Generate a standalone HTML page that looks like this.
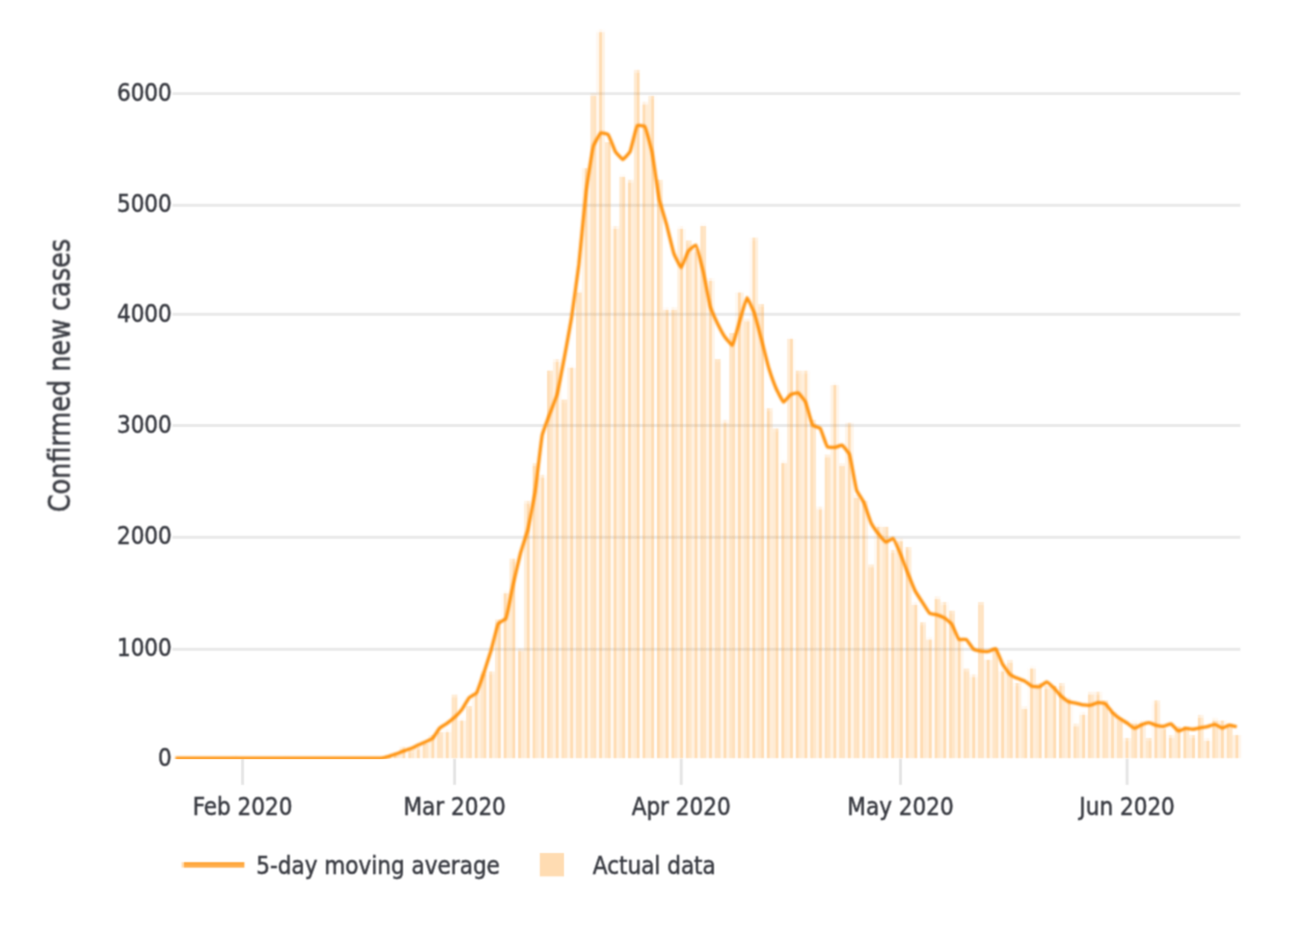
<!DOCTYPE html>
<html lang="en">
<head>
<meta charset="utf-8">
<title>Confirmed new cases</title>
<style>
html,body{margin:0;padding:0;background:#fff;}
body{width:1290px;height:937px;overflow:hidden;}
svg{display:block;}
text{font-family:"DejaVu Sans Condensed","Liberation Sans",sans-serif;font-size:25.2px;fill:#393b42;stroke:#393b42;stroke-width:0.5px;}
</style>
</head>
<body>
<svg width="1290" height="937" viewBox="0 0 1290 937">
<defs><filter id="soft" filterUnits="userSpaceOnUse" x="0" y="0" width="1290" height="937" color-interpolation-filters="sRGB"><feConvolveMatrix order="3" kernelMatrix="0.04000 0.12000 0.04000 0.12000 0.36000 0.12000 0.04000 0.12000 0.04000" divisor="1" edgeMode="none" preserveAlpha="false"/></filter><filter id="softt" filterUnits="userSpaceOnUse" x="0" y="0" width="1290" height="937" color-interpolation-filters="sRGB"><feConvolveMatrix order="3" kernelMatrix="0.06250 0.12500 0.06250 0.12500 0.25000 0.12500 0.06250 0.12500 0.06250" divisor="1" edgeMode="none" preserveAlpha="false"/></filter><filter id="softl" filterUnits="userSpaceOnUse" x="0" y="0" width="1290" height="937" color-interpolation-filters="sRGB"><feConvolveMatrix order="5" kernelMatrix="0.00391 0.01562 0.02344 0.01562 0.00391 0.01562 0.06250 0.09375 0.06250 0.01562 0.02344 0.09375 0.14062 0.09375 0.02344 0.01562 0.06250 0.09375 0.06250 0.01562 0.00391 0.01562 0.02344 0.01562 0.00391" divisor="1" edgeMode="none" preserveAlpha="false"/></filter><clipPath id="plot"><rect x="170" y="0" width="1075" height="759.2"/></clipPath></defs>
<rect x="0" y="0" width="1290" height="937" fill="#ffffff"/>
<g filter="url(#soft)">
<g stroke="#e9e9e9" stroke-width="2.9" fill="none">
<line x1="172.4" y1="93.60" x2="1240.4" y2="93.60"/>
<line x1="172.4" y1="205.20" x2="1240.4" y2="205.20"/>
<line x1="172.4" y1="314.30" x2="1240.4" y2="314.30"/>
<line x1="172.4" y1="425.50" x2="1240.4" y2="425.50"/>
<line x1="172.4" y1="537.20" x2="1240.4" y2="537.20"/>
<line x1="172.4" y1="649.20" x2="1240.4" y2="649.20"/>
</g>
<g stroke="#e4e4e4" stroke-width="2.9" fill="none">
<line x1="242.60" y1="758.8" x2="242.60" y2="784.8"/>
<line x1="454.59" y1="758.8" x2="454.59" y2="784.8"/>
<line x1="681.20" y1="758.8" x2="681.20" y2="784.8"/>
<line x1="900.50" y1="758.8" x2="900.50" y2="784.8"/>
<line x1="1127.11" y1="758.8" x2="1127.11" y2="784.8"/>
</g>
<g fill="#ff8c00">
<rect x="231.79" y="755.31" width="2.89" height="2.89" fill-opacity="0.014"/><rect x="234.68" y="755.31" width="2.89" height="2.89" fill-opacity="0.023"/><rect x="237.57" y="755.31" width="2.89" height="2.89" fill-opacity="0.000"/>
<rect x="283.85" y="755.31" width="2.89" height="2.89" fill-opacity="0.011"/><rect x="286.75" y="755.31" width="2.89" height="2.89" fill-opacity="0.008"/>
<rect x="385.09" y="755.31" width="2.89" height="2.89" fill-opacity="0.101"/><rect x="387.98" y="755.31" width="2.89" height="2.89" fill-opacity="0.196"/><rect x="390.87" y="755.31" width="2.89" height="2.89" fill-opacity="0.016"/>
<rect x="393.76" y="755.31" width="2.89" height="2.89" fill-opacity="0.297"/><rect x="393.76" y="752.42" width="2.89" height="2.89" fill-opacity="0.181"/><rect x="396.66" y="755.31" width="2.89" height="2.89" fill-opacity="0.183"/><rect x="396.66" y="752.42" width="2.89" height="2.89" fill-opacity="0.112"/>
<rect x="399.55" y="749.53" width="2.89" height="8.67" fill-opacity="0.138"/><rect x="399.55" y="746.63" width="2.89" height="2.89" fill-opacity="0.078"/><rect x="402.44" y="749.53" width="2.89" height="8.67" fill-opacity="0.300"/><rect x="402.44" y="746.63" width="2.89" height="2.89" fill-opacity="0.169"/><rect x="405.33" y="749.53" width="2.89" height="8.67" fill-opacity="0.042"/><rect x="405.33" y="746.63" width="2.89" height="2.89" fill-opacity="0.023"/>
<rect x="408.23" y="752.42" width="2.89" height="5.78" fill-opacity="0.280"/><rect x="408.23" y="749.53" width="2.89" height="2.89" fill-opacity="0.234"/><rect x="411.12" y="752.42" width="2.89" height="5.78" fill-opacity="0.200"/><rect x="411.12" y="749.53" width="2.89" height="2.89" fill-opacity="0.167"/>
<rect x="414.01" y="749.53" width="2.89" height="8.67" fill-opacity="0.122"/><rect x="414.01" y="746.63" width="2.89" height="2.89" fill-opacity="0.069"/><rect x="416.90" y="749.53" width="2.89" height="8.67" fill-opacity="0.300"/><rect x="416.90" y="746.63" width="2.89" height="2.89" fill-opacity="0.169"/><rect x="419.79" y="749.53" width="2.89" height="8.67" fill-opacity="0.058"/><rect x="419.79" y="746.63" width="2.89" height="2.89" fill-opacity="0.033"/>
<rect x="422.69" y="743.74" width="2.89" height="14.46" fill-opacity="0.264"/><rect x="425.58" y="743.74" width="2.89" height="14.46" fill-opacity="0.216"/>
<rect x="428.47" y="737.96" width="2.89" height="20.24" fill-opacity="0.106"/><rect x="428.47" y="735.06" width="2.89" height="2.89" fill-opacity="0.078"/><rect x="431.36" y="737.96" width="2.89" height="20.24" fill-opacity="0.300"/><rect x="431.36" y="735.06" width="2.89" height="2.89" fill-opacity="0.222"/><rect x="434.26" y="737.96" width="2.89" height="20.24" fill-opacity="0.074"/><rect x="434.26" y="735.06" width="2.89" height="2.89" fill-opacity="0.055"/>
<rect x="437.15" y="735.06" width="2.89" height="23.14" fill-opacity="0.247"/><rect x="437.15" y="732.17" width="2.89" height="2.89" fill-opacity="0.230"/><rect x="440.04" y="735.06" width="2.89" height="23.14" fill-opacity="0.233"/><rect x="440.04" y="732.17" width="2.89" height="2.89" fill-opacity="0.216"/>
<rect x="442.93" y="732.17" width="2.89" height="26.03" fill-opacity="0.089"/><rect x="442.93" y="729.28" width="2.89" height="2.89" fill-opacity="0.017"/><rect x="445.83" y="732.17" width="2.89" height="26.03" fill-opacity="0.300"/><rect x="445.83" y="729.28" width="2.89" height="2.89" fill-opacity="0.059"/><rect x="448.72" y="732.17" width="2.89" height="26.03" fill-opacity="0.091"/><rect x="448.72" y="729.28" width="2.89" height="2.89" fill-opacity="0.018"/>
<rect x="451.61" y="697.46" width="2.89" height="60.74" fill-opacity="0.231"/><rect x="451.61" y="694.57" width="2.89" height="2.89" fill-opacity="0.159"/><rect x="454.50" y="697.46" width="2.89" height="60.74" fill-opacity="0.249"/><rect x="454.50" y="694.57" width="2.89" height="2.89" fill-opacity="0.171"/>
<rect x="457.40" y="720.60" width="2.89" height="37.60" fill-opacity="0.073"/><rect x="457.40" y="717.71" width="2.89" height="2.89" fill-opacity="0.008"/><rect x="460.29" y="720.60" width="2.89" height="37.60" fill-opacity="0.300"/><rect x="460.29" y="717.71" width="2.89" height="2.89" fill-opacity="0.031"/><rect x="463.18" y="720.60" width="2.89" height="37.60" fill-opacity="0.107"/><rect x="463.18" y="717.71" width="2.89" height="2.89" fill-opacity="0.011"/>
<rect x="466.07" y="709.03" width="2.89" height="49.17" fill-opacity="0.215"/><rect x="466.07" y="706.14" width="2.89" height="2.89" fill-opacity="0.183"/><rect x="468.97" y="709.03" width="2.89" height="49.17" fill-opacity="0.265"/><rect x="468.97" y="706.14" width="2.89" height="2.89" fill-opacity="0.227"/>
<rect x="471.86" y="694.57" width="2.89" height="63.63" fill-opacity="0.056"/><rect x="471.86" y="691.68" width="2.89" height="2.89" fill-opacity="0.028"/><rect x="474.75" y="694.57" width="2.89" height="63.63" fill-opacity="0.300"/><rect x="474.75" y="691.68" width="2.89" height="2.89" fill-opacity="0.147"/><rect x="477.64" y="694.57" width="2.89" height="63.63" fill-opacity="0.124"/><rect x="477.64" y="691.68" width="2.89" height="2.89" fill-opacity="0.061"/>
<rect x="480.53" y="674.32" width="2.89" height="83.88" fill-opacity="0.198"/><rect x="480.53" y="671.43" width="2.89" height="2.89" fill-opacity="0.092"/><rect x="483.43" y="674.32" width="2.89" height="83.88" fill-opacity="0.282"/><rect x="483.43" y="671.43" width="2.89" height="2.89" fill-opacity="0.131"/>
<rect x="486.32" y="674.32" width="2.89" height="83.88" fill-opacity="0.040"/><rect x="486.32" y="671.43" width="2.89" height="2.89" fill-opacity="0.032"/><rect x="489.21" y="674.32" width="2.89" height="83.88" fill-opacity="0.300"/><rect x="489.21" y="671.43" width="2.89" height="2.89" fill-opacity="0.243"/><rect x="492.10" y="674.32" width="2.89" height="83.88" fill-opacity="0.140"/><rect x="492.10" y="671.43" width="2.89" height="2.89" fill-opacity="0.113"/>
<rect x="495.00" y="622.26" width="2.89" height="135.94" fill-opacity="0.182"/><rect x="495.00" y="619.37" width="2.89" height="2.89" fill-opacity="0.141"/><rect x="497.89" y="622.26" width="2.89" height="135.94" fill-opacity="0.298"/><rect x="497.89" y="619.37" width="2.89" height="2.89" fill-opacity="0.232"/>
<rect x="500.78" y="593.34" width="2.89" height="164.86" fill-opacity="0.024"/><rect x="500.78" y="590.44" width="2.89" height="2.89" fill-opacity="0.004"/><rect x="503.67" y="593.34" width="2.89" height="164.86" fill-opacity="0.300"/><rect x="503.67" y="590.44" width="2.89" height="2.89" fill-opacity="0.049"/><rect x="506.57" y="593.34" width="2.89" height="164.86" fill-opacity="0.156"/><rect x="506.57" y="590.44" width="2.89" height="2.89" fill-opacity="0.026"/>
<rect x="509.46" y="561.52" width="2.89" height="196.68" fill-opacity="0.165"/><rect x="509.46" y="558.63" width="2.89" height="2.89" fill-opacity="0.141"/><rect x="512.35" y="561.52" width="2.89" height="196.68" fill-opacity="0.300"/><rect x="512.35" y="558.63" width="2.89" height="2.89" fill-opacity="0.255"/><rect x="515.24" y="561.52" width="2.89" height="196.68" fill-opacity="0.015"/><rect x="515.24" y="558.63" width="2.89" height="2.89" fill-opacity="0.012"/>
<rect x="515.24" y="651.18" width="2.89" height="107.02" fill-opacity="0.007"/><rect x="515.24" y="648.29" width="2.89" height="2.89" fill-opacity="0.003"/><rect x="518.14" y="651.18" width="2.89" height="107.02" fill-opacity="0.300"/><rect x="518.14" y="648.29" width="2.89" height="2.89" fill-opacity="0.130"/><rect x="521.03" y="651.18" width="2.89" height="107.02" fill-opacity="0.173"/><rect x="521.03" y="648.29" width="2.89" height="2.89" fill-opacity="0.075"/>
<rect x="523.92" y="503.67" width="2.89" height="254.53" fill-opacity="0.149"/><rect x="523.92" y="500.78" width="2.89" height="2.89" fill-opacity="0.092"/><rect x="526.81" y="503.67" width="2.89" height="254.53" fill-opacity="0.300"/><rect x="526.81" y="500.78" width="2.89" height="2.89" fill-opacity="0.186"/><rect x="529.70" y="503.67" width="2.89" height="254.53" fill-opacity="0.031"/><rect x="529.70" y="500.78" width="2.89" height="2.89" fill-opacity="0.019"/>
<rect x="532.60" y="466.07" width="2.89" height="292.13" fill-opacity="0.291"/><rect x="532.60" y="463.18" width="2.89" height="2.89" fill-opacity="0.166"/><rect x="535.49" y="466.07" width="2.89" height="292.13" fill-opacity="0.189"/><rect x="535.49" y="463.18" width="2.89" height="2.89" fill-opacity="0.108"/>
<rect x="538.38" y="477.64" width="2.89" height="280.56" fill-opacity="0.133"/><rect x="538.38" y="474.75" width="2.89" height="2.89" fill-opacity="0.078"/><rect x="541.27" y="477.64" width="2.89" height="280.56" fill-opacity="0.300"/><rect x="541.27" y="474.75" width="2.89" height="2.89" fill-opacity="0.176"/><rect x="544.17" y="477.64" width="2.89" height="280.56" fill-opacity="0.047"/><rect x="544.17" y="474.75" width="2.89" height="2.89" fill-opacity="0.028"/>
<rect x="547.06" y="373.52" width="2.89" height="384.68" fill-opacity="0.274"/><rect x="547.06" y="370.62" width="2.89" height="2.89" fill-opacity="0.270"/><rect x="549.95" y="373.52" width="2.89" height="384.68" fill-opacity="0.206"/><rect x="549.95" y="370.62" width="2.89" height="2.89" fill-opacity="0.202"/>
<rect x="552.84" y="361.95" width="2.89" height="396.25" fill-opacity="0.116"/><rect x="552.84" y="359.05" width="2.89" height="2.89" fill-opacity="0.063"/><rect x="555.74" y="361.95" width="2.89" height="396.25" fill-opacity="0.300"/><rect x="555.74" y="359.05" width="2.89" height="2.89" fill-opacity="0.164"/><rect x="558.63" y="361.95" width="2.89" height="396.25" fill-opacity="0.064"/><rect x="558.63" y="359.05" width="2.89" height="2.89" fill-opacity="0.035"/>
<rect x="561.52" y="402.44" width="2.89" height="355.76" fill-opacity="0.258"/><rect x="561.52" y="399.55" width="2.89" height="2.89" fill-opacity="0.224"/><rect x="564.41" y="402.44" width="2.89" height="355.76" fill-opacity="0.222"/><rect x="564.41" y="399.55" width="2.89" height="2.89" fill-opacity="0.193"/>
<rect x="567.31" y="367.73" width="2.89" height="390.47" fill-opacity="0.100"/><rect x="567.31" y="364.84" width="2.89" height="2.89" fill-opacity="0.009"/><rect x="570.20" y="367.73" width="2.89" height="390.47" fill-opacity="0.300"/><rect x="570.20" y="364.84" width="2.89" height="2.89" fill-opacity="0.028"/><rect x="573.09" y="367.73" width="2.89" height="390.47" fill-opacity="0.080"/><rect x="573.09" y="364.84" width="2.89" height="2.89" fill-opacity="0.008"/>
<rect x="575.98" y="292.53" width="2.89" height="465.67" fill-opacity="0.242"/><rect x="575.98" y="289.64" width="2.89" height="2.89" fill-opacity="0.045"/><rect x="578.88" y="292.53" width="2.89" height="465.67" fill-opacity="0.238"/><rect x="578.88" y="289.64" width="2.89" height="2.89" fill-opacity="0.044"/>
<rect x="581.77" y="171.05" width="2.89" height="587.15" fill-opacity="0.083"/><rect x="581.77" y="168.16" width="2.89" height="2.89" fill-opacity="0.075"/><rect x="584.66" y="171.05" width="2.89" height="587.15" fill-opacity="0.300"/><rect x="584.66" y="168.16" width="2.89" height="2.89" fill-opacity="0.271"/><rect x="587.55" y="171.05" width="2.89" height="587.15" fill-opacity="0.097"/><rect x="587.55" y="168.16" width="2.89" height="2.89" fill-opacity="0.087"/>
<rect x="590.44" y="95.85" width="2.89" height="662.35" fill-opacity="0.225"/><rect x="590.44" y="92.96" width="2.89" height="2.89" fill-opacity="0.078"/><rect x="593.34" y="95.85" width="2.89" height="662.35" fill-opacity="0.255"/><rect x="593.34" y="92.96" width="2.89" height="2.89" fill-opacity="0.088"/>
<rect x="596.23" y="32.22" width="2.89" height="725.98" fill-opacity="0.067"/><rect x="596.23" y="29.32" width="2.89" height="2.89" fill-opacity="0.015"/><rect x="599.12" y="32.22" width="2.89" height="725.98" fill-opacity="0.300"/><rect x="599.12" y="29.32" width="2.89" height="2.89" fill-opacity="0.066"/><rect x="602.01" y="32.22" width="2.89" height="725.98" fill-opacity="0.113"/><rect x="602.01" y="29.32" width="2.89" height="2.89" fill-opacity="0.025"/>
<rect x="604.91" y="142.13" width="2.89" height="616.07" fill-opacity="0.209"/><rect x="604.91" y="139.23" width="2.89" height="2.89" fill-opacity="0.005"/><rect x="607.80" y="142.13" width="2.89" height="616.07" fill-opacity="0.271"/><rect x="607.80" y="139.23" width="2.89" height="2.89" fill-opacity="0.006"/>
<rect x="610.69" y="228.90" width="2.89" height="529.30" fill-opacity="0.051"/><rect x="610.69" y="226.01" width="2.89" height="2.89" fill-opacity="0.024"/><rect x="613.58" y="228.90" width="2.89" height="529.30" fill-opacity="0.300"/><rect x="613.58" y="226.01" width="2.89" height="2.89" fill-opacity="0.145"/><rect x="616.48" y="228.90" width="2.89" height="529.30" fill-opacity="0.129"/><rect x="616.48" y="226.01" width="2.89" height="2.89" fill-opacity="0.063"/>
<rect x="619.37" y="176.83" width="2.89" height="581.37" fill-opacity="0.192"/><rect x="619.37" y="173.94" width="2.89" height="2.89" fill-opacity="0.021"/><rect x="622.26" y="176.83" width="2.89" height="581.37" fill-opacity="0.288"/><rect x="622.26" y="173.94" width="2.89" height="2.89" fill-opacity="0.031"/>
<rect x="625.15" y="182.62" width="2.89" height="575.58" fill-opacity="0.034"/><rect x="625.15" y="179.73" width="2.89" height="2.89" fill-opacity="0.021"/><rect x="628.05" y="182.62" width="2.89" height="575.58" fill-opacity="0.300"/><rect x="628.05" y="179.73" width="2.89" height="2.89" fill-opacity="0.184"/><rect x="630.94" y="182.62" width="2.89" height="575.58" fill-opacity="0.146"/><rect x="630.94" y="179.73" width="2.89" height="2.89" fill-opacity="0.089"/>
<rect x="633.83" y="72.71" width="2.89" height="685.49" fill-opacity="0.176"/><rect x="633.83" y="69.82" width="2.89" height="2.89" fill-opacity="0.116"/><rect x="636.72" y="72.71" width="2.89" height="685.49" fill-opacity="0.300"/><rect x="636.72" y="69.82" width="2.89" height="2.89" fill-opacity="0.198"/><rect x="639.62" y="72.71" width="2.89" height="685.49" fill-opacity="0.004"/><rect x="639.62" y="69.82" width="2.89" height="2.89" fill-opacity="0.003"/>
<rect x="639.62" y="104.53" width="2.89" height="653.67" fill-opacity="0.018"/><rect x="639.62" y="101.63" width="2.89" height="2.89" fill-opacity="0.007"/><rect x="642.51" y="104.53" width="2.89" height="653.67" fill-opacity="0.300"/><rect x="642.51" y="101.63" width="2.89" height="2.89" fill-opacity="0.118"/><rect x="645.40" y="104.53" width="2.89" height="653.67" fill-opacity="0.162"/><rect x="645.40" y="101.63" width="2.89" height="2.89" fill-opacity="0.064"/>
<rect x="648.29" y="98.74" width="2.89" height="659.46" fill-opacity="0.160"/><rect x="648.29" y="95.85" width="2.89" height="2.89" fill-opacity="0.141"/><rect x="651.18" y="98.74" width="2.89" height="659.46" fill-opacity="0.300"/><rect x="651.18" y="95.85" width="2.89" height="2.89" fill-opacity="0.265"/><rect x="654.08" y="98.74" width="2.89" height="659.46" fill-opacity="0.020"/><rect x="654.08" y="95.85" width="2.89" height="2.89" fill-opacity="0.018"/>
<rect x="656.97" y="182.62" width="2.89" height="575.58" fill-opacity="0.300"/><rect x="656.97" y="179.73" width="2.89" height="2.89" fill-opacity="0.265"/><rect x="659.86" y="182.62" width="2.89" height="575.58" fill-opacity="0.179"/><rect x="659.86" y="179.73" width="2.89" height="2.89" fill-opacity="0.157"/>
<rect x="662.75" y="309.88" width="2.89" height="448.32" fill-opacity="0.143"/><rect x="662.75" y="306.99" width="2.89" height="2.89" fill-opacity="0.024"/><rect x="665.65" y="309.88" width="2.89" height="448.32" fill-opacity="0.300"/><rect x="665.65" y="306.99" width="2.89" height="2.89" fill-opacity="0.051"/><rect x="668.54" y="309.88" width="2.89" height="448.32" fill-opacity="0.037"/><rect x="668.54" y="306.99" width="2.89" height="2.89" fill-opacity="0.006"/>
<rect x="671.43" y="309.88" width="2.89" height="448.32" fill-opacity="0.285"/><rect x="671.43" y="306.99" width="2.89" height="2.89" fill-opacity="0.081"/><rect x="674.32" y="309.88" width="2.89" height="448.32" fill-opacity="0.195"/><rect x="674.32" y="306.99" width="2.89" height="2.89" fill-opacity="0.056"/>
<rect x="677.22" y="228.90" width="2.89" height="529.30" fill-opacity="0.127"/><rect x="677.22" y="226.01" width="2.89" height="2.89" fill-opacity="0.027"/><rect x="680.11" y="228.90" width="2.89" height="529.30" fill-opacity="0.300"/><rect x="680.11" y="226.01" width="2.89" height="2.89" fill-opacity="0.065"/><rect x="683.00" y="228.90" width="2.89" height="529.30" fill-opacity="0.053"/><rect x="683.00" y="226.01" width="2.89" height="2.89" fill-opacity="0.011"/>
<rect x="685.89" y="243.36" width="2.89" height="514.84" fill-opacity="0.269"/><rect x="685.89" y="240.47" width="2.89" height="2.89" fill-opacity="0.228"/><rect x="688.79" y="243.36" width="2.89" height="514.84" fill-opacity="0.211"/><rect x="688.79" y="240.47" width="2.89" height="2.89" fill-opacity="0.179"/>
<rect x="691.68" y="252.04" width="2.89" height="506.16" fill-opacity="0.110"/><rect x="691.68" y="249.14" width="2.89" height="2.89" fill-opacity="0.074"/><rect x="694.57" y="252.04" width="2.89" height="506.16" fill-opacity="0.300"/><rect x="694.57" y="249.14" width="2.89" height="2.89" fill-opacity="0.200"/><rect x="697.46" y="252.04" width="2.89" height="506.16" fill-opacity="0.070"/><rect x="697.46" y="249.14" width="2.89" height="2.89" fill-opacity="0.046"/>
<rect x="700.36" y="226.01" width="2.89" height="532.19" fill-opacity="0.252"/><rect x="700.36" y="223.11" width="2.89" height="2.89" fill-opacity="0.024"/><rect x="703.25" y="226.01" width="2.89" height="532.19" fill-opacity="0.228"/><rect x="703.25" y="223.11" width="2.89" height="2.89" fill-opacity="0.022"/>
<rect x="706.14" y="280.96" width="2.89" height="477.24" fill-opacity="0.094"/><rect x="706.14" y="278.07" width="2.89" height="2.89" fill-opacity="0.034"/><rect x="709.03" y="280.96" width="2.89" height="477.24" fill-opacity="0.300"/><rect x="709.03" y="278.07" width="2.89" height="2.89" fill-opacity="0.108"/><rect x="711.92" y="280.96" width="2.89" height="477.24" fill-opacity="0.086"/><rect x="711.92" y="278.07" width="2.89" height="2.89" fill-opacity="0.031"/>
<rect x="714.82" y="361.95" width="2.89" height="396.25" fill-opacity="0.236"/><rect x="714.82" y="359.05" width="2.89" height="2.89" fill-opacity="0.210"/><rect x="717.71" y="361.95" width="2.89" height="396.25" fill-opacity="0.244"/><rect x="717.71" y="359.05" width="2.89" height="2.89" fill-opacity="0.218"/>
<rect x="720.60" y="422.69" width="2.89" height="335.51" fill-opacity="0.078"/><rect x="720.60" y="419.79" width="2.89" height="2.89" fill-opacity="0.034"/><rect x="723.49" y="422.69" width="2.89" height="335.51" fill-opacity="0.300"/><rect x="723.49" y="419.79" width="2.89" height="2.89" fill-opacity="0.131"/><rect x="726.39" y="422.69" width="2.89" height="335.51" fill-opacity="0.102"/><rect x="726.39" y="419.79" width="2.89" height="2.89" fill-opacity="0.045"/>
<rect x="729.28" y="335.92" width="2.89" height="422.28" fill-opacity="0.219"/><rect x="729.28" y="333.02" width="2.89" height="2.89" fill-opacity="0.213"/><rect x="732.17" y="335.92" width="2.89" height="422.28" fill-opacity="0.261"/><rect x="732.17" y="333.02" width="2.89" height="2.89" fill-opacity="0.253"/>
<rect x="735.06" y="292.53" width="2.89" height="465.67" fill-opacity="0.061"/><rect x="735.06" y="289.64" width="2.89" height="2.89" fill-opacity="0.004"/><rect x="737.96" y="292.53" width="2.89" height="465.67" fill-opacity="0.300"/><rect x="737.96" y="289.64" width="2.89" height="2.89" fill-opacity="0.021"/><rect x="740.85" y="292.53" width="2.89" height="465.67" fill-opacity="0.119"/><rect x="740.85" y="289.64" width="2.89" height="2.89" fill-opacity="0.008"/>
<rect x="743.74" y="321.45" width="2.89" height="436.75" fill-opacity="0.203"/><rect x="743.74" y="318.56" width="2.89" height="2.89" fill-opacity="0.077"/><rect x="746.63" y="321.45" width="2.89" height="436.75" fill-opacity="0.277"/><rect x="746.63" y="318.56" width="2.89" height="2.89" fill-opacity="0.104"/>
<rect x="749.53" y="240.47" width="2.89" height="517.73" fill-opacity="0.045"/><rect x="749.53" y="237.57" width="2.89" height="2.89" fill-opacity="0.038"/><rect x="752.42" y="240.47" width="2.89" height="517.73" fill-opacity="0.300"/><rect x="752.42" y="237.57" width="2.89" height="2.89" fill-opacity="0.253"/><rect x="755.31" y="240.47" width="2.89" height="517.73" fill-opacity="0.135"/><rect x="755.31" y="237.57" width="2.89" height="2.89" fill-opacity="0.114"/>
<rect x="758.20" y="306.99" width="2.89" height="451.21" fill-opacity="0.187"/><rect x="758.20" y="304.10" width="2.89" height="2.89" fill-opacity="0.145"/><rect x="761.10" y="306.99" width="2.89" height="451.21" fill-opacity="0.293"/><rect x="761.10" y="304.10" width="2.89" height="2.89" fill-opacity="0.229"/>
<rect x="763.99" y="411.12" width="2.89" height="347.08" fill-opacity="0.028"/><rect x="763.99" y="408.23" width="2.89" height="2.89" fill-opacity="0.023"/><rect x="766.88" y="411.12" width="2.89" height="347.08" fill-opacity="0.300"/><rect x="766.88" y="408.23" width="2.89" height="2.89" fill-opacity="0.241"/><rect x="769.77" y="411.12" width="2.89" height="347.08" fill-opacity="0.152"/><rect x="769.77" y="408.23" width="2.89" height="2.89" fill-opacity="0.122"/>
<rect x="772.66" y="431.36" width="2.89" height="326.84" fill-opacity="0.170"/><rect x="772.66" y="428.47" width="2.89" height="2.89" fill-opacity="0.148"/><rect x="775.56" y="431.36" width="2.89" height="326.84" fill-opacity="0.300"/><rect x="775.56" y="428.47" width="2.89" height="2.89" fill-opacity="0.260"/><rect x="778.45" y="431.36" width="2.89" height="326.84" fill-opacity="0.010"/><rect x="778.45" y="428.47" width="2.89" height="2.89" fill-opacity="0.009"/>
<rect x="778.45" y="463.18" width="2.89" height="295.02" fill-opacity="0.012"/><rect x="778.45" y="460.29" width="2.89" height="2.89" fill-opacity="0.002"/><rect x="781.34" y="463.18" width="2.89" height="295.02" fill-opacity="0.300"/><rect x="781.34" y="460.29" width="2.89" height="2.89" fill-opacity="0.055"/><rect x="784.23" y="463.18" width="2.89" height="295.02" fill-opacity="0.168"/><rect x="784.23" y="460.29" width="2.89" height="2.89" fill-opacity="0.031"/>
<rect x="787.13" y="338.81" width="2.89" height="419.39" fill-opacity="0.154"/><rect x="787.13" y="335.92" width="2.89" height="2.89" fill-opacity="0.009"/><rect x="790.02" y="338.81" width="2.89" height="419.39" fill-opacity="0.300"/><rect x="790.02" y="335.92" width="2.89" height="2.89" fill-opacity="0.017"/><rect x="792.91" y="338.81" width="2.89" height="419.39" fill-opacity="0.026"/><rect x="792.91" y="335.92" width="2.89" height="2.89" fill-opacity="0.001"/>
<rect x="795.80" y="373.52" width="2.89" height="384.68" fill-opacity="0.296"/><rect x="795.80" y="370.62" width="2.89" height="2.89" fill-opacity="0.245"/><rect x="798.70" y="373.52" width="2.89" height="384.68" fill-opacity="0.184"/><rect x="798.70" y="370.62" width="2.89" height="2.89" fill-opacity="0.153"/>
<rect x="801.59" y="373.52" width="2.89" height="384.68" fill-opacity="0.137"/><rect x="801.59" y="370.62" width="2.89" height="2.89" fill-opacity="0.103"/><rect x="804.48" y="373.52" width="2.89" height="384.68" fill-opacity="0.300"/><rect x="804.48" y="370.62" width="2.89" height="2.89" fill-opacity="0.226"/><rect x="807.37" y="373.52" width="2.89" height="384.68" fill-opacity="0.043"/><rect x="807.37" y="370.62" width="2.89" height="2.89" fill-opacity="0.032"/>
<rect x="810.27" y="422.69" width="2.89" height="335.51" fill-opacity="0.279"/><rect x="810.27" y="419.79" width="2.89" height="2.89" fill-opacity="0.207"/><rect x="813.16" y="422.69" width="2.89" height="335.51" fill-opacity="0.201"/><rect x="813.16" y="419.79" width="2.89" height="2.89" fill-opacity="0.149"/>
<rect x="816.05" y="509.46" width="2.89" height="248.74" fill-opacity="0.121"/><rect x="816.05" y="506.57" width="2.89" height="2.89" fill-opacity="0.053"/><rect x="818.94" y="509.46" width="2.89" height="248.74" fill-opacity="0.300"/><rect x="818.94" y="506.57" width="2.89" height="2.89" fill-opacity="0.131"/><rect x="821.83" y="509.46" width="2.89" height="248.74" fill-opacity="0.059"/><rect x="821.83" y="506.57" width="2.89" height="2.89" fill-opacity="0.026"/>
<rect x="824.73" y="457.40" width="2.89" height="300.80" fill-opacity="0.263"/><rect x="824.73" y="454.50" width="2.89" height="2.89" fill-opacity="0.147"/><rect x="827.62" y="457.40" width="2.89" height="300.80" fill-opacity="0.217"/><rect x="827.62" y="454.50" width="2.89" height="2.89" fill-opacity="0.121"/>
<rect x="830.51" y="385.09" width="2.89" height="373.11" fill-opacity="0.105"/><rect x="830.51" y="382.19" width="2.89" height="2.89" fill-opacity="0.012"/><rect x="833.40" y="385.09" width="2.89" height="373.11" fill-opacity="0.300"/><rect x="833.40" y="382.19" width="2.89" height="2.89" fill-opacity="0.035"/><rect x="836.30" y="385.09" width="2.89" height="373.11" fill-opacity="0.075"/><rect x="836.30" y="382.19" width="2.89" height="2.89" fill-opacity="0.009"/>
<rect x="839.19" y="466.07" width="2.89" height="292.13" fill-opacity="0.246"/><rect x="839.19" y="463.18" width="2.89" height="2.89" fill-opacity="0.093"/><rect x="842.08" y="466.07" width="2.89" height="292.13" fill-opacity="0.234"/><rect x="842.08" y="463.18" width="2.89" height="2.89" fill-opacity="0.088"/>
<rect x="844.97" y="425.58" width="2.89" height="332.62" fill-opacity="0.088"/><rect x="844.97" y="422.69" width="2.89" height="2.89" fill-opacity="0.066"/><rect x="847.87" y="425.58" width="2.89" height="332.62" fill-opacity="0.300"/><rect x="847.87" y="422.69" width="2.89" height="2.89" fill-opacity="0.224"/><rect x="850.76" y="425.58" width="2.89" height="332.62" fill-opacity="0.092"/><rect x="850.76" y="422.69" width="2.89" height="2.89" fill-opacity="0.068"/>
<rect x="853.65" y="497.89" width="2.89" height="260.31" fill-opacity="0.230"/><rect x="853.65" y="495.00" width="2.89" height="2.89" fill-opacity="0.070"/><rect x="856.54" y="497.89" width="2.89" height="260.31" fill-opacity="0.250"/><rect x="856.54" y="495.00" width="2.89" height="2.89" fill-opacity="0.076"/>
<rect x="859.44" y="500.78" width="2.89" height="257.42" fill-opacity="0.072"/><rect x="859.44" y="497.89" width="2.89" height="2.89" fill-opacity="0.003"/><rect x="862.33" y="500.78" width="2.89" height="257.42" fill-opacity="0.300"/><rect x="862.33" y="497.89" width="2.89" height="2.89" fill-opacity="0.012"/><rect x="865.22" y="500.78" width="2.89" height="257.42" fill-opacity="0.108"/><rect x="865.22" y="497.89" width="2.89" height="2.89" fill-opacity="0.004"/>
<rect x="868.11" y="567.31" width="2.89" height="190.89" fill-opacity="0.214"/><rect x="868.11" y="564.41" width="2.89" height="2.89" fill-opacity="0.134"/><rect x="871.01" y="567.31" width="2.89" height="190.89" fill-opacity="0.266"/><rect x="871.01" y="564.41" width="2.89" height="2.89" fill-opacity="0.167"/>
<rect x="873.90" y="526.81" width="2.89" height="231.39" fill-opacity="0.055"/><rect x="873.90" y="523.92" width="2.89" height="2.89" fill-opacity="0.006"/><rect x="876.79" y="526.81" width="2.89" height="231.39" fill-opacity="0.300"/><rect x="876.79" y="523.92" width="2.89" height="2.89" fill-opacity="0.034"/><rect x="879.68" y="526.81" width="2.89" height="231.39" fill-opacity="0.125"/><rect x="879.68" y="523.92" width="2.89" height="2.89" fill-opacity="0.014"/>
<rect x="882.57" y="529.70" width="2.89" height="228.50" fill-opacity="0.197"/><rect x="882.57" y="526.81" width="2.89" height="2.89" fill-opacity="0.182"/><rect x="885.47" y="529.70" width="2.89" height="228.50" fill-opacity="0.283"/><rect x="885.47" y="526.81" width="2.89" height="2.89" fill-opacity="0.261"/>
<rect x="888.36" y="552.84" width="2.89" height="205.36" fill-opacity="0.039"/><rect x="888.36" y="549.95" width="2.89" height="2.89" fill-opacity="0.028"/><rect x="891.25" y="552.84" width="2.89" height="205.36" fill-opacity="0.300"/><rect x="891.25" y="549.95" width="2.89" height="2.89" fill-opacity="0.217"/><rect x="894.14" y="552.84" width="2.89" height="205.36" fill-opacity="0.141"/><rect x="894.14" y="549.95" width="2.89" height="2.89" fill-opacity="0.102"/>
<rect x="897.04" y="541.27" width="2.89" height="216.93" fill-opacity="0.181"/><rect x="897.04" y="538.38" width="2.89" height="2.89" fill-opacity="0.052"/><rect x="899.93" y="541.27" width="2.89" height="216.93" fill-opacity="0.299"/><rect x="899.93" y="538.38" width="2.89" height="2.89" fill-opacity="0.086"/>
<rect x="902.82" y="549.95" width="2.89" height="208.25" fill-opacity="0.023"/><rect x="902.82" y="547.06" width="2.89" height="2.89" fill-opacity="0.018"/><rect x="905.71" y="549.95" width="2.89" height="208.25" fill-opacity="0.300"/><rect x="905.71" y="547.06" width="2.89" height="2.89" fill-opacity="0.239"/><rect x="908.61" y="549.95" width="2.89" height="208.25" fill-opacity="0.157"/><rect x="908.61" y="547.06" width="2.89" height="2.89" fill-opacity="0.125"/>
<rect x="911.50" y="604.91" width="2.89" height="153.29" fill-opacity="0.164"/><rect x="911.50" y="602.01" width="2.89" height="2.89" fill-opacity="0.036"/><rect x="914.39" y="604.91" width="2.89" height="153.29" fill-opacity="0.300"/><rect x="914.39" y="602.01" width="2.89" height="2.89" fill-opacity="0.065"/><rect x="917.28" y="604.91" width="2.89" height="153.29" fill-opacity="0.016"/><rect x="917.28" y="602.01" width="2.89" height="2.89" fill-opacity="0.003"/>
<rect x="917.28" y="625.15" width="2.89" height="133.05" fill-opacity="0.006"/><rect x="917.28" y="622.26" width="2.89" height="2.89" fill-opacity="0.005"/><rect x="920.18" y="625.15" width="2.89" height="133.05" fill-opacity="0.300"/><rect x="920.18" y="622.26" width="2.89" height="2.89" fill-opacity="0.234"/><rect x="923.07" y="625.15" width="2.89" height="133.05" fill-opacity="0.174"/><rect x="923.07" y="622.26" width="2.89" height="2.89" fill-opacity="0.136"/>
<rect x="925.96" y="639.62" width="2.89" height="118.58" fill-opacity="0.148"/><rect x="925.96" y="636.72" width="2.89" height="2.89" fill-opacity="0.028"/><rect x="928.85" y="639.62" width="2.89" height="118.58" fill-opacity="0.300"/><rect x="928.85" y="636.72" width="2.89" height="2.89" fill-opacity="0.056"/><rect x="931.75" y="639.62" width="2.89" height="118.58" fill-opacity="0.032"/><rect x="931.75" y="636.72" width="2.89" height="2.89" fill-opacity="0.006"/>
<rect x="934.64" y="599.12" width="2.89" height="159.08" fill-opacity="0.290"/><rect x="934.64" y="596.23" width="2.89" height="2.89" fill-opacity="0.094"/><rect x="937.53" y="599.12" width="2.89" height="159.08" fill-opacity="0.190"/><rect x="937.53" y="596.23" width="2.89" height="2.89" fill-opacity="0.062"/>
<rect x="940.42" y="604.91" width="2.89" height="153.29" fill-opacity="0.132"/><rect x="940.42" y="602.01" width="2.89" height="2.89" fill-opacity="0.089"/><rect x="943.31" y="604.91" width="2.89" height="153.29" fill-opacity="0.300"/><rect x="943.31" y="602.01" width="2.89" height="2.89" fill-opacity="0.203"/><rect x="946.21" y="604.91" width="2.89" height="153.29" fill-opacity="0.048"/><rect x="946.21" y="602.01" width="2.89" height="2.89" fill-opacity="0.033"/>
<rect x="949.10" y="613.58" width="2.89" height="144.62" fill-opacity="0.273"/><rect x="949.10" y="610.69" width="2.89" height="2.89" fill-opacity="0.230"/><rect x="951.99" y="613.58" width="2.89" height="144.62" fill-opacity="0.207"/><rect x="951.99" y="610.69" width="2.89" height="2.89" fill-opacity="0.174"/>
<rect x="954.88" y="639.62" width="2.89" height="118.58" fill-opacity="0.115"/><rect x="954.88" y="636.72" width="2.89" height="2.89" fill-opacity="0.057"/><rect x="957.78" y="639.62" width="2.89" height="118.58" fill-opacity="0.300"/><rect x="957.78" y="636.72" width="2.89" height="2.89" fill-opacity="0.148"/><rect x="960.67" y="639.62" width="2.89" height="118.58" fill-opacity="0.065"/><rect x="960.67" y="636.72" width="2.89" height="2.89" fill-opacity="0.032"/>
<rect x="963.56" y="671.43" width="2.89" height="86.77" fill-opacity="0.257"/><rect x="963.56" y="668.54" width="2.89" height="2.89" fill-opacity="0.187"/><rect x="966.45" y="671.43" width="2.89" height="86.77" fill-opacity="0.223"/><rect x="966.45" y="668.54" width="2.89" height="2.89" fill-opacity="0.162"/>
<rect x="969.35" y="677.22" width="2.89" height="80.98" fill-opacity="0.099"/><rect x="969.35" y="674.32" width="2.89" height="2.89" fill-opacity="0.050"/><rect x="972.24" y="677.22" width="2.89" height="80.98" fill-opacity="0.300"/><rect x="972.24" y="674.32" width="2.89" height="2.89" fill-opacity="0.152"/><rect x="975.13" y="677.22" width="2.89" height="80.98" fill-opacity="0.081"/><rect x="975.13" y="674.32" width="2.89" height="2.89" fill-opacity="0.041"/>
<rect x="978.02" y="604.91" width="2.89" height="153.29" fill-opacity="0.241"/><rect x="978.02" y="602.01" width="2.89" height="2.89" fill-opacity="0.172"/><rect x="980.92" y="604.91" width="2.89" height="153.29" fill-opacity="0.239"/><rect x="980.92" y="602.01" width="2.89" height="2.89" fill-opacity="0.171"/>
<rect x="983.81" y="659.86" width="2.89" height="98.34" fill-opacity="0.082"/><rect x="983.81" y="656.97" width="2.89" height="2.89" fill-opacity="0.002"/><rect x="986.70" y="659.86" width="2.89" height="98.34" fill-opacity="0.300"/><rect x="986.70" y="656.97" width="2.89" height="2.89" fill-opacity="0.007"/><rect x="989.59" y="659.86" width="2.89" height="98.34" fill-opacity="0.098"/><rect x="989.59" y="656.97" width="2.89" height="2.89" fill-opacity="0.002"/>
<rect x="992.49" y="648.29" width="2.89" height="109.91" fill-opacity="0.224"/><rect x="995.38" y="648.29" width="2.89" height="109.91" fill-opacity="0.256"/>
<rect x="998.27" y="671.43" width="2.89" height="86.77" fill-opacity="0.066"/><rect x="998.27" y="668.54" width="2.89" height="2.89" fill-opacity="0.015"/><rect x="1001.16" y="671.43" width="2.89" height="86.77" fill-opacity="0.300"/><rect x="1001.16" y="668.54" width="2.89" height="2.89" fill-opacity="0.069"/><rect x="1004.05" y="671.43" width="2.89" height="86.77" fill-opacity="0.114"/><rect x="1004.05" y="668.54" width="2.89" height="2.89" fill-opacity="0.026"/>
<rect x="1006.95" y="662.75" width="2.89" height="95.45" fill-opacity="0.208"/><rect x="1006.95" y="659.86" width="2.89" height="2.89" fill-opacity="0.109"/><rect x="1009.84" y="662.75" width="2.89" height="95.45" fill-opacity="0.272"/><rect x="1009.84" y="659.86" width="2.89" height="2.89" fill-opacity="0.143"/>
<rect x="1012.73" y="685.89" width="2.89" height="72.31" fill-opacity="0.050"/><rect x="1012.73" y="683.00" width="2.89" height="2.89" fill-opacity="0.043"/><rect x="1015.62" y="685.89" width="2.89" height="72.31" fill-opacity="0.300"/><rect x="1015.62" y="683.00" width="2.89" height="2.89" fill-opacity="0.259"/><rect x="1018.52" y="685.89" width="2.89" height="72.31" fill-opacity="0.130"/><rect x="1018.52" y="683.00" width="2.89" height="2.89" fill-opacity="0.112"/>
<rect x="1021.41" y="709.03" width="2.89" height="49.17" fill-opacity="0.191"/><rect x="1021.41" y="706.14" width="2.89" height="2.89" fill-opacity="0.054"/><rect x="1024.30" y="709.03" width="2.89" height="49.17" fill-opacity="0.289"/><rect x="1024.30" y="706.14" width="2.89" height="2.89" fill-opacity="0.081"/>
<rect x="1027.19" y="668.54" width="2.89" height="89.66" fill-opacity="0.033"/><rect x="1027.19" y="665.65" width="2.89" height="2.89" fill-opacity="0.005"/><rect x="1030.09" y="668.54" width="2.89" height="89.66" fill-opacity="0.300"/><rect x="1030.09" y="665.65" width="2.89" height="2.89" fill-opacity="0.045"/><rect x="1032.98" y="668.54" width="2.89" height="89.66" fill-opacity="0.147"/><rect x="1032.98" y="665.65" width="2.89" height="2.89" fill-opacity="0.022"/>
<rect x="1035.87" y="685.89" width="2.89" height="72.31" fill-opacity="0.175"/><rect x="1035.87" y="683.00" width="2.89" height="2.89" fill-opacity="0.084"/><rect x="1038.76" y="685.89" width="2.89" height="72.31" fill-opacity="0.300"/><rect x="1038.76" y="683.00" width="2.89" height="2.89" fill-opacity="0.144"/><rect x="1041.66" y="685.89" width="2.89" height="72.31" fill-opacity="0.005"/><rect x="1041.66" y="683.00" width="2.89" height="2.89" fill-opacity="0.002"/>
<rect x="1041.66" y="688.79" width="2.89" height="69.41" fill-opacity="0.017"/><rect x="1041.66" y="685.89" width="2.89" height="2.89" fill-opacity="0.010"/><rect x="1044.55" y="688.79" width="2.89" height="69.41" fill-opacity="0.300"/><rect x="1044.55" y="685.89" width="2.89" height="2.89" fill-opacity="0.179"/><rect x="1047.44" y="688.79" width="2.89" height="69.41" fill-opacity="0.163"/><rect x="1047.44" y="685.89" width="2.89" height="2.89" fill-opacity="0.098"/>
<rect x="1050.33" y="688.79" width="2.89" height="69.41" fill-opacity="0.159"/><rect x="1050.33" y="685.89" width="2.89" height="2.89" fill-opacity="0.156"/><rect x="1053.23" y="688.79" width="2.89" height="69.41" fill-opacity="0.300"/><rect x="1053.23" y="685.89" width="2.89" height="2.89" fill-opacity="0.294"/><rect x="1056.12" y="688.79" width="2.89" height="69.41" fill-opacity="0.021"/><rect x="1056.12" y="685.89" width="2.89" height="2.89" fill-opacity="0.021"/>
<rect x="1059.01" y="685.89" width="2.89" height="72.31" fill-opacity="0.300"/><rect x="1059.01" y="683.00" width="2.89" height="2.89" fill-opacity="0.190"/><rect x="1061.90" y="685.89" width="2.89" height="72.31" fill-opacity="0.180"/><rect x="1061.90" y="683.00" width="2.89" height="2.89" fill-opacity="0.114"/>
<rect x="1064.79" y="700.36" width="2.89" height="57.84" fill-opacity="0.142"/><rect x="1064.79" y="697.46" width="2.89" height="2.89" fill-opacity="0.049"/><rect x="1067.69" y="700.36" width="2.89" height="57.84" fill-opacity="0.300"/><rect x="1067.69" y="697.46" width="2.89" height="2.89" fill-opacity="0.104"/><rect x="1070.58" y="700.36" width="2.89" height="57.84" fill-opacity="0.038"/><rect x="1070.58" y="697.46" width="2.89" height="2.89" fill-opacity="0.013"/>
<rect x="1073.47" y="726.39" width="2.89" height="31.81" fill-opacity="0.284"/><rect x="1073.47" y="723.49" width="2.89" height="2.89" fill-opacity="0.141"/><rect x="1076.36" y="726.39" width="2.89" height="31.81" fill-opacity="0.196"/><rect x="1076.36" y="723.49" width="2.89" height="2.89" fill-opacity="0.097"/>
<rect x="1079.26" y="714.82" width="2.89" height="43.38" fill-opacity="0.126"/><rect x="1079.26" y="711.92" width="2.89" height="2.89" fill-opacity="0.027"/><rect x="1082.15" y="714.82" width="2.89" height="43.38" fill-opacity="0.300"/><rect x="1082.15" y="711.92" width="2.89" height="2.89" fill-opacity="0.063"/><rect x="1085.04" y="714.82" width="2.89" height="43.38" fill-opacity="0.054"/><rect x="1085.04" y="711.92" width="2.89" height="2.89" fill-opacity="0.011"/>
<rect x="1087.93" y="694.57" width="2.89" height="63.63" fill-opacity="0.268"/><rect x="1087.93" y="691.68" width="2.89" height="2.89" fill-opacity="0.101"/><rect x="1090.83" y="694.57" width="2.89" height="63.63" fill-opacity="0.212"/><rect x="1090.83" y="691.68" width="2.89" height="2.89" fill-opacity="0.080"/>
<rect x="1093.72" y="694.57" width="2.89" height="63.63" fill-opacity="0.109"/><rect x="1093.72" y="691.68" width="2.89" height="2.89" fill-opacity="0.079"/><rect x="1096.61" y="694.57" width="2.89" height="63.63" fill-opacity="0.300"/><rect x="1096.61" y="691.68" width="2.89" height="2.89" fill-opacity="0.216"/><rect x="1099.50" y="694.57" width="2.89" height="63.63" fill-opacity="0.071"/><rect x="1099.50" y="691.68" width="2.89" height="2.89" fill-opacity="0.051"/>
<rect x="1102.40" y="703.25" width="2.89" height="54.95" fill-opacity="0.251"/><rect x="1102.40" y="700.36" width="2.89" height="2.89" fill-opacity="0.194"/><rect x="1105.29" y="703.25" width="2.89" height="54.95" fill-opacity="0.229"/><rect x="1105.29" y="700.36" width="2.89" height="2.89" fill-opacity="0.176"/>
<rect x="1108.18" y="714.82" width="2.89" height="43.38" fill-opacity="0.093"/><rect x="1108.18" y="711.92" width="2.89" height="2.89" fill-opacity="0.087"/><rect x="1111.07" y="714.82" width="2.89" height="43.38" fill-opacity="0.300"/><rect x="1111.07" y="711.92" width="2.89" height="2.89" fill-opacity="0.282"/><rect x="1113.97" y="714.82" width="2.89" height="43.38" fill-opacity="0.087"/><rect x="1113.97" y="711.92" width="2.89" height="2.89" fill-opacity="0.082"/>
<rect x="1116.86" y="720.60" width="2.89" height="37.60" fill-opacity="0.235"/><rect x="1116.86" y="717.71" width="2.89" height="2.89" fill-opacity="0.141"/><rect x="1119.75" y="720.60" width="2.89" height="37.60" fill-opacity="0.245"/><rect x="1119.75" y="717.71" width="2.89" height="2.89" fill-opacity="0.148"/>
<rect x="1122.64" y="740.85" width="2.89" height="17.35" fill-opacity="0.077"/><rect x="1122.64" y="737.96" width="2.89" height="2.89" fill-opacity="0.063"/><rect x="1125.53" y="740.85" width="2.89" height="17.35" fill-opacity="0.300"/><rect x="1125.53" y="737.96" width="2.89" height="2.89" fill-opacity="0.246"/><rect x="1128.43" y="740.85" width="2.89" height="17.35" fill-opacity="0.103"/><rect x="1128.43" y="737.96" width="2.89" height="2.89" fill-opacity="0.085"/>
<rect x="1131.32" y="723.49" width="2.89" height="34.71" fill-opacity="0.218"/><rect x="1131.32" y="720.60" width="2.89" height="2.89" fill-opacity="0.040"/><rect x="1134.21" y="723.49" width="2.89" height="34.71" fill-opacity="0.262"/><rect x="1134.21" y="720.60" width="2.89" height="2.89" fill-opacity="0.048"/>
<rect x="1137.10" y="723.49" width="2.89" height="34.71" fill-opacity="0.060"/><rect x="1137.10" y="720.60" width="2.89" height="2.89" fill-opacity="0.018"/><rect x="1140.00" y="723.49" width="2.89" height="34.71" fill-opacity="0.300"/><rect x="1140.00" y="720.60" width="2.89" height="2.89" fill-opacity="0.090"/><rect x="1142.89" y="723.49" width="2.89" height="34.71" fill-opacity="0.120"/><rect x="1142.89" y="720.60" width="2.89" height="2.89" fill-opacity="0.036"/>
<rect x="1145.78" y="740.85" width="2.89" height="17.35" fill-opacity="0.202"/><rect x="1145.78" y="737.96" width="2.89" height="2.89" fill-opacity="0.158"/><rect x="1148.67" y="740.85" width="2.89" height="17.35" fill-opacity="0.278"/><rect x="1148.67" y="737.96" width="2.89" height="2.89" fill-opacity="0.218"/>
<rect x="1151.57" y="703.25" width="2.89" height="54.95" fill-opacity="0.044"/><rect x="1151.57" y="700.36" width="2.89" height="2.89" fill-opacity="0.037"/><rect x="1154.46" y="703.25" width="2.89" height="54.95" fill-opacity="0.300"/><rect x="1154.46" y="700.36" width="2.89" height="2.89" fill-opacity="0.254"/><rect x="1157.35" y="703.25" width="2.89" height="54.95" fill-opacity="0.136"/><rect x="1157.35" y="700.36" width="2.89" height="2.89" fill-opacity="0.115"/>
<rect x="1160.24" y="729.28" width="2.89" height="28.92" fill-opacity="0.186"/><rect x="1160.24" y="726.39" width="2.89" height="2.89" fill-opacity="0.064"/><rect x="1163.14" y="729.28" width="2.89" height="28.92" fill-opacity="0.294"/><rect x="1163.14" y="726.39" width="2.89" height="2.89" fill-opacity="0.102"/>
<rect x="1166.03" y="737.96" width="2.89" height="20.24" fill-opacity="0.027"/><rect x="1166.03" y="735.06" width="2.89" height="2.89" fill-opacity="0.015"/><rect x="1168.92" y="737.96" width="2.89" height="20.24" fill-opacity="0.300"/><rect x="1168.92" y="735.06" width="2.89" height="2.89" fill-opacity="0.165"/><rect x="1171.81" y="737.96" width="2.89" height="20.24" fill-opacity="0.153"/><rect x="1171.81" y="735.06" width="2.89" height="2.89" fill-opacity="0.084"/>
<rect x="1174.70" y="729.28" width="2.89" height="28.92" fill-opacity="0.169"/><rect x="1174.70" y="726.39" width="2.89" height="2.89" fill-opacity="0.123"/><rect x="1177.60" y="729.28" width="2.89" height="28.92" fill-opacity="0.300"/><rect x="1177.60" y="726.39" width="2.89" height="2.89" fill-opacity="0.219"/><rect x="1180.49" y="729.28" width="2.89" height="28.92" fill-opacity="0.011"/><rect x="1180.49" y="726.39" width="2.89" height="2.89" fill-opacity="0.008"/>
<rect x="1180.49" y="729.28" width="2.89" height="28.92" fill-opacity="0.011"/><rect x="1180.49" y="726.39" width="2.89" height="2.89" fill-opacity="0.009"/><rect x="1183.38" y="729.28" width="2.89" height="28.92" fill-opacity="0.300"/><rect x="1183.38" y="726.39" width="2.89" height="2.89" fill-opacity="0.253"/><rect x="1186.27" y="729.28" width="2.89" height="28.92" fill-opacity="0.169"/><rect x="1186.27" y="726.39" width="2.89" height="2.89" fill-opacity="0.143"/>
<rect x="1189.17" y="737.96" width="2.89" height="20.24" fill-opacity="0.153"/><rect x="1189.17" y="735.06" width="2.89" height="2.89" fill-opacity="0.113"/><rect x="1192.06" y="737.96" width="2.89" height="20.24" fill-opacity="0.300"/><rect x="1192.06" y="735.06" width="2.89" height="2.89" fill-opacity="0.222"/><rect x="1194.95" y="737.96" width="2.89" height="20.24" fill-opacity="0.027"/><rect x="1194.95" y="735.06" width="2.89" height="2.89" fill-opacity="0.020"/>
<rect x="1197.84" y="717.71" width="2.89" height="40.49" fill-opacity="0.295"/><rect x="1197.84" y="714.82" width="2.89" height="2.89" fill-opacity="0.154"/><rect x="1200.74" y="717.71" width="2.89" height="40.49" fill-opacity="0.185"/><rect x="1200.74" y="714.82" width="2.89" height="2.89" fill-opacity="0.097"/>
<rect x="1203.63" y="740.85" width="2.89" height="17.35" fill-opacity="0.136"/><rect x="1203.63" y="737.96" width="2.89" height="2.89" fill-opacity="0.034"/><rect x="1206.52" y="740.85" width="2.89" height="17.35" fill-opacity="0.300"/><rect x="1206.52" y="737.96" width="2.89" height="2.89" fill-opacity="0.074"/><rect x="1209.41" y="740.85" width="2.89" height="17.35" fill-opacity="0.044"/><rect x="1209.41" y="737.96" width="2.89" height="2.89" fill-opacity="0.011"/>
<rect x="1212.31" y="720.60" width="2.89" height="37.60" fill-opacity="0.278"/><rect x="1212.31" y="717.71" width="2.89" height="2.89" fill-opacity="0.072"/><rect x="1215.20" y="720.60" width="2.89" height="37.60" fill-opacity="0.202"/><rect x="1215.20" y="717.71" width="2.89" height="2.89" fill-opacity="0.052"/>
<rect x="1218.09" y="723.49" width="2.89" height="34.71" fill-opacity="0.120"/><rect x="1218.09" y="720.60" width="2.89" height="2.89" fill-opacity="0.114"/><rect x="1220.98" y="723.49" width="2.89" height="34.71" fill-opacity="0.300"/><rect x="1220.98" y="720.60" width="2.89" height="2.89" fill-opacity="0.285"/><rect x="1223.88" y="723.49" width="2.89" height="34.71" fill-opacity="0.060"/><rect x="1223.88" y="720.60" width="2.89" height="2.89" fill-opacity="0.057"/>
<rect x="1226.77" y="726.39" width="2.89" height="31.81" fill-opacity="0.262"/><rect x="1226.77" y="723.49" width="2.89" height="2.89" fill-opacity="0.160"/><rect x="1229.66" y="726.39" width="2.89" height="31.81" fill-opacity="0.218"/><rect x="1229.66" y="723.49" width="2.89" height="2.89" fill-opacity="0.133"/>
<rect x="1232.55" y="735.06" width="2.89" height="23.14" fill-opacity="0.104"/><rect x="1232.55" y="732.17" width="2.89" height="2.89" fill-opacity="0.005"/><rect x="1235.44" y="735.06" width="2.89" height="23.14" fill-opacity="0.300"/><rect x="1235.44" y="732.17" width="2.89" height="2.89" fill-opacity="0.014"/><rect x="1238.34" y="735.06" width="2.89" height="23.14" fill-opacity="0.076"/><rect x="1238.34" y="732.17" width="2.89" height="2.89" fill-opacity="0.004"/>
</g>
</g>
<g filter="url(#softl)" clip-path="url(#plot)">
<path d="M175.41,758.20Q183.34,758.20 184.12,758.20C184.83,758.20 190.75,758.20 191.43,758.20C192.11,758.20 198.06,758.20 198.74,758.20C199.42,758.20 205.37,758.20 206.05,758.20C206.73,758.20 212.68,758.20 213.36,758.20C214.04,758.20 219.99,758.16 220.67,758.16C221.35,758.15 227.30,758.16 227.98,758.16C228.66,758.16 234.61,758.16 235.29,758.16C235.97,758.16 241.92,758.16 242.60,758.16C243.28,758.16 249.23,758.15 249.91,758.16C250.59,758.16 256.54,758.20 257.22,758.20C257.90,758.20 263.85,758.20 264.53,758.20C265.21,758.20 271.16,758.18 271.84,758.18C272.52,758.18 278.47,758.18 279.15,758.18C279.83,758.18 285.78,758.18 286.46,758.18C287.14,758.18 293.09,758.18 293.77,758.18C294.45,758.18 300.40,758.18 301.08,758.18C301.76,758.18 307.71,758.20 308.39,758.20C309.07,758.20 315.02,758.20 315.70,758.20C316.38,758.20 322.33,758.20 323.01,758.20C323.69,758.20 329.64,758.20 330.32,758.20C331.00,758.20 336.95,758.20 337.63,758.20C338.31,758.20 344.26,758.20 344.94,758.20C345.62,758.20 351.57,758.20 352.25,758.20C352.93,758.20 358.88,758.20 359.56,758.20C360.24,758.20 366.19,758.20 366.87,758.20C367.55,758.20 373.50,758.21 374.18,758.20C374.86,758.19 380.81,758.18 381.49,758.09C382.18,758.00 388.12,756.51 388.80,756.32C389.49,756.12 395.43,754.23 396.11,753.99C396.80,753.75 402.74,751.38 403.42,751.13C404.10,750.88 410.06,748.88 410.73,748.60C411.42,748.32 417.35,745.37 418.04,745.06C418.72,744.75 424.67,742.27 425.35,741.95C426.04,741.64 432.04,738.81 432.66,738.28C433.44,737.60 439.21,728.52 439.97,727.79C440.60,727.19 446.61,723.60 447.28,723.12C447.98,722.62 453.93,717.88 454.59,717.26C455.30,716.61 461.26,710.26 461.90,709.42C462.63,708.46 468.43,698.49 469.21,697.69C469.83,697.07 475.93,693.73 476.52,693.00C477.44,691.85 483.17,674.88 483.83,672.94C484.53,670.89 490.48,652.42 491.14,650.20C491.85,647.81 497.42,624.77 498.45,623.38C499.02,622.60 505.19,619.58 505.76,618.77C506.90,617.14 512.37,587.85 513.07,584.75C513.74,581.78 519.65,556.32 520.38,553.63C521.02,551.28 527.07,532.71 527.69,530.25C528.47,527.17 534.38,496.48 535.00,492.57C535.77,487.76 541.36,438.65 542.31,434.66C542.89,432.23 548.93,416.15 549.62,414.27C550.29,412.43 556.32,397.00 556.93,394.88C557.75,392.02 563.57,361.60 564.24,358.09C564.94,354.40 570.91,321.68 571.55,317.64C572.28,313.02 578.22,269.90 578.86,264.53C579.61,258.23 585.38,196.89 586.17,190.86C586.79,186.13 592.47,148.66 593.48,145.78C594.06,144.15 599.95,133.26 600.79,132.88C601.39,132.62 607.51,134.02 608.10,134.50C609.02,135.27 614.60,150.46 615.41,151.70C616.02,152.64 622.04,159.54 622.72,159.55C623.40,159.55 629.45,152.84 630.03,151.81C630.96,150.16 636.24,126.30 637.34,125.55C637.91,125.16 644.08,125.78 644.65,126.26C645.74,127.16 651.35,149.18 651.96,151.97C652.78,155.71 658.45,195.90 659.27,199.62C659.88,202.35 665.92,222.17 666.58,224.60C667.29,227.19 673.06,251.36 673.89,253.54C674.49,255.13 680.54,267.57 681.20,267.55C681.91,267.52 687.67,251.91 688.51,250.81C689.11,250.03 695.24,244.80 695.82,244.99C696.81,245.30 702.49,268.55 703.13,271.21C703.87,274.29 709.59,304.62 710.44,307.31C711.04,309.19 717.03,322.46 717.75,323.91C718.40,325.24 724.31,336.18 725.06,337.23C725.69,338.12 731.78,345.45 732.37,345.32C733.27,345.12 738.99,323.29 739.68,321.05C740.36,318.85 746.23,297.77 746.99,297.71C747.62,297.67 753.69,311.20 754.30,312.85C755.10,314.99 760.93,337.58 761.61,340.16C762.30,342.78 768.17,366.20 768.92,368.61C769.56,370.67 775.48,387.08 776.23,388.74C776.86,390.13 782.78,401.91 783.54,402.01C784.17,402.10 790.10,394.94 790.85,394.52C791.48,394.17 797.54,392.64 798.16,392.86C798.94,393.13 804.87,400.85 805.47,401.97C806.33,403.59 811.76,424.32 812.78,425.40C813.35,426.00 819.51,427.55 820.09,428.12C821.03,429.04 826.44,446.14 827.40,446.85C827.98,447.28 834.03,447.50 834.71,447.43C835.40,447.35 841.40,445.00 842.02,445.19C842.79,445.42 848.76,452.95 849.33,454.16C850.36,456.33 855.70,487.88 856.64,490.31C857.22,491.83 863.33,501.28 863.95,502.61C864.72,504.26 870.46,521.76 871.26,523.34C871.87,524.55 877.85,533.18 878.57,534.08C879.22,534.91 885.14,541.90 885.88,542.04C886.52,542.16 892.59,538.26 893.19,538.47C894.06,538.78 899.85,552.49 900.50,554.03C901.22,555.71 907.12,571.45 907.81,573.20C908.48,574.89 914.37,589.42 915.12,590.87C915.75,592.09 921.74,601.35 922.43,602.41C923.11,603.46 928.93,612.93 929.74,613.47C930.35,613.88 936.38,614.65 937.05,614.85C937.74,615.06 943.71,617.51 944.36,617.91C945.08,618.34 951.06,623.17 951.67,623.96C952.49,625.01 958.08,638.90 958.98,639.47C959.57,639.84 965.67,639.14 966.29,639.45C967.08,639.84 972.82,648.64 973.60,649.18C974.22,649.60 980.22,651.09 980.91,651.20C981.59,651.30 987.55,651.60 988.22,651.48C988.92,651.36 994.94,648.34 995.53,648.58C996.42,648.94 1002.08,663.41 1002.84,664.69C1003.47,665.75 1009.39,673.72 1010.15,674.38C1010.78,674.92 1016.77,678.03 1017.46,678.35C1018.13,678.65 1024.11,680.74 1024.77,681.09C1025.48,681.47 1031.36,686.00 1032.08,686.26C1032.73,686.49 1038.74,686.94 1039.39,686.77C1040.11,686.58 1046.03,681.89 1046.70,681.94C1047.40,681.98 1053.35,687.54 1054.01,688.19C1054.72,688.87 1060.60,695.63 1061.32,696.28C1061.97,696.87 1067.91,701.38 1068.63,701.71C1069.28,702.00 1075.26,703.06 1075.94,703.21C1076.62,703.36 1082.56,704.80 1083.25,704.90C1083.93,704.99 1089.89,705.33 1090.56,705.23C1091.25,705.13 1097.18,702.73 1097.87,702.66C1098.54,702.59 1104.56,703.24 1105.18,703.59C1105.96,704.02 1111.77,711.86 1112.49,712.59C1113.14,713.25 1119.10,718.19 1119.80,718.68C1120.46,719.15 1126.44,722.56 1127.11,723.00C1127.80,723.46 1133.72,728.24 1134.42,728.30C1135.09,728.36 1141.04,724.96 1141.73,724.69C1142.40,724.43 1148.36,722.62 1149.04,722.65C1149.73,722.68 1155.66,725.16 1156.35,725.33C1157.02,725.49 1162.98,726.30 1163.66,726.24C1164.35,726.18 1170.33,723.74 1170.97,723.89C1171.71,724.06 1177.54,730.73 1178.28,730.89C1178.92,731.04 1184.90,728.55 1185.59,728.48C1186.26,728.41 1192.22,729.26 1192.90,729.23C1193.58,729.20 1199.53,727.90 1200.21,727.77C1200.89,727.64 1206.84,726.71 1207.52,726.55C1208.21,726.39 1214.16,724.25 1214.83,724.31C1215.52,724.37 1221.45,728.03 1222.14,728.06C1222.82,728.09 1228.76,725.09 1229.45,725.04Q1230.12,724.98 1236.76,726.77" fill="none" stroke="#ff8c00" stroke-opacity="0.94" stroke-width="3.3" stroke-linejoin="round" stroke-linecap="butt"/>
</g>
<g filter="url(#soft)">
<rect x="184" y="862.2" width="60.4" height="2.7" fill="#ff8c00" fill-opacity="0.8"/><rect x="184" y="864.9" width="60.4" height="2.7" fill="#ff8c00" fill-opacity="0.7"/><rect x="181.6" y="862.2" width="2.4" height="5.4" fill="#ff8c00" fill-opacity="0.3"/>
<rect x="539.8" y="853" width="24.2" height="23.4" fill="#ff8c00" fill-opacity="0.3"/>
</g>
<g filter="url(#softt)">
<text transform="translate(171.8,100.8) scale(0.952,1)" text-anchor="end">6000</text>
<text transform="translate(171.8,212.4) scale(0.952,1)" text-anchor="end">5000</text>
<text transform="translate(171.8,321.5) scale(0.952,1)" text-anchor="end">4000</text>
<text transform="translate(171.8,432.7) scale(0.952,1)" text-anchor="end">3000</text>
<text transform="translate(171.8,544.4) scale(0.952,1)" text-anchor="end">2000</text>
<text transform="translate(171.8,656.4) scale(0.952,1)" text-anchor="end">1000</text>
<text transform="translate(171.8,765.9) scale(0.952,1)" text-anchor="end">0</text>
<text transform="translate(242.6,815.3) scale(0.952,1)" text-anchor="middle">Feb 2020</text>
<text transform="translate(454.6,815.3) scale(0.952,1)" text-anchor="middle">Mar 2020</text>
<text transform="translate(681.2,815.3) scale(0.952,1)" text-anchor="middle">Apr 2020</text>
<text transform="translate(900.5,815.3) scale(0.952,1)" text-anchor="middle">May 2020</text>
<text transform="translate(1127.1,815.3) scale(0.952,1)" text-anchor="middle">Jun 2020</text>
<text transform="translate(256.3,873.9) scale(0.952,1)" text-anchor="start">5-day moving average</text>
<text transform="translate(592.8,873.9) scale(0.952,1)" text-anchor="start">Actual data</text>
<text transform="translate(69.8,375.6) rotate(-90) scale(0.952,1)" text-anchor="middle" style="font-size:29.8px">Confirmed new cases</text>
</g>
</svg>
</body>
</html>
